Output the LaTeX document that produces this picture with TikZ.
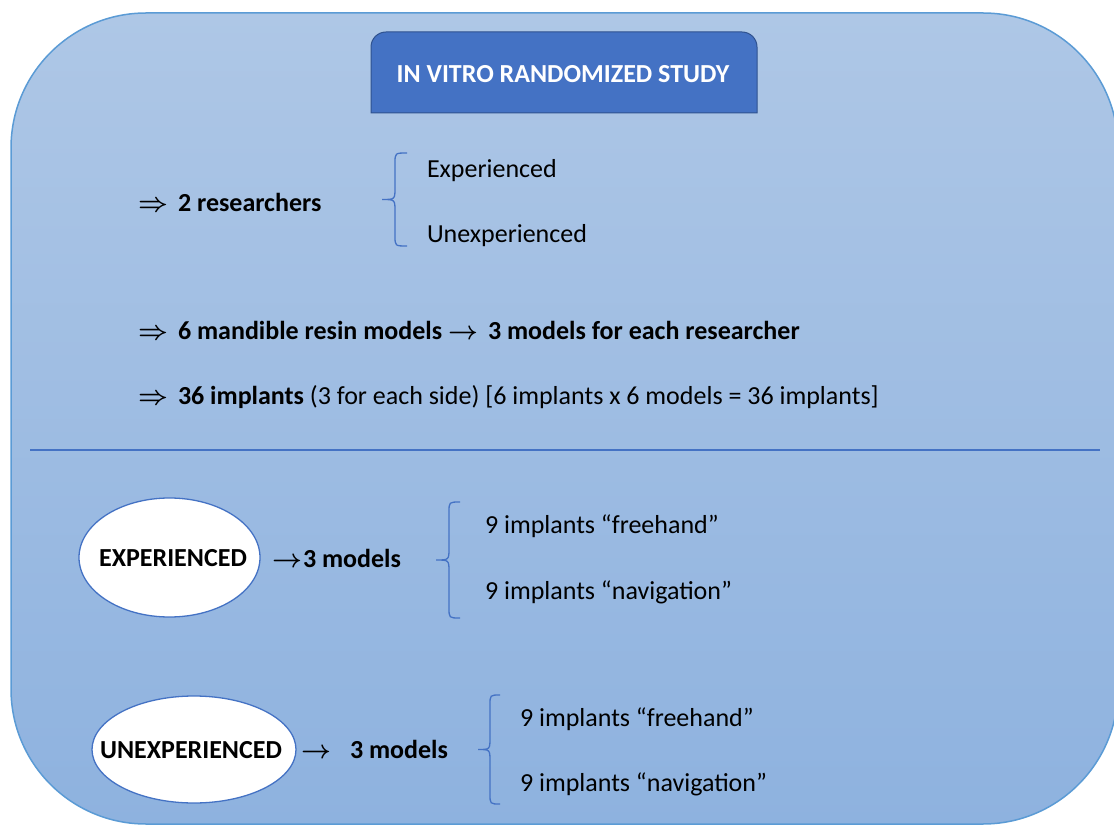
\RequirePackage{fix-cm}
\documentclass[tikz,border=0pt]{standalone}
\usepackage{fontspec}
\setmainfont{Carlito}
\usetikzlibrary{shapes.geometric}
\definecolor{bgtop}{HTML}{AEC7E6}
\definecolor{bgbot}{HTML}{8EB2DF}
\definecolor{rimblue}{HTML}{5B9BD5}
\definecolor{titleblue}{HTML}{4472C4}
\definecolor{titleedge}{HTML}{2F528F}
\definecolor{braceblue}{HTML}{4472C4}
\tikzset{
  txt/.style={anchor=base west, inner sep=0pt, outer sep=0pt, text=black, font=\fontsize{26}{31}\selectfont},
  btxt/.style={txt, font=\fontsize{26}{31}\selectfont\bfseries},
  ovalshape/.style={ellipse, draw=titleblue, line width=1.3pt, fill=white, inner sep=0pt},
  ovaltext/.style={inner sep=0pt, text=black, font=\fontsize{26}{31}\selectfont\bfseries},
  bracestyle/.style={draw=braceblue, line width=1.3pt},
}
\newcommand{\ArrowR}{{\boldmath$\rightarrow$}}
\newcommand{\ArrowRR}{{\boldmath$\Rightarrow$}}
% #1 tip x, #2 stem x, #3 end x, #4 top y, #5 bottom y
\newcommand{\BraceShape}[5]{%
  \draw[bracestyle] (#3,#4) .. controls (#2,#4) .. (#2,{#4+10})
    -- (#2,{(#4+#5)/2-12}) .. controls (#2,{(#4+#5)/2}) .. (#1,{(#4+#5)/2})
    .. controls (#2,{(#4+#5)/2}) .. (#2,{(#4+#5)/2+12})
    -- (#2,{#5-10}) .. controls (#2,#5) .. (#3,#5);%
}
\begin{document}
\begin{tikzpicture}[x=1pt,y=-1pt]
\useasboundingbox (0,0) rectangle (1114,826);
% outer frame
\node[draw=rimblue, line width=1.5pt, top color=bgtop, bottom color=bgbot,
      rounded corners=135pt, minimum width=1107pt, minimum height=811pt,
      inner sep=0pt] (frame) at (564.5,418.5) {};
% title
\draw[fill=titleblue, draw=titleedge, line width=1pt]
  (371,113) [rounded corners=15pt] -- (371,32) -- (757,32) [sharp corners] -- (757,113) -- cycle;
\node[inner sep=0pt, text=white, font=\fontsize{26}{31}\selectfont\bfseries] (title) at (563,74) {IN VITRO RANDOMIZED STUDY};

% researchers
\node[txt] (a1) at (138,212) {\ArrowRR};
\node[btxt] (res) at (178,212) {2 researchers};
\BraceShape{382}{395}{407}{153}{246}
\node[txt] (expd) at (427,178) {Experienced};
\node[txt] (unexpd) at (427,243) {Unexperienced};

% models
\node[txt] (a2) at (138,340) {\ArrowRR};
\node[btxt] (m6) at (178,340) {6 mandible resin models};
\node[txt] (a3) at (448,340) {\ArrowR};
\node[btxt] (m3) at (488,340) {3 models for each researcher};

% implants
\node[txt] (a4) at (138,404) {\ArrowRR};
\node[txt] (imp) at (178,404) {\textbf{36 implants} (3 for each side) [6 implants x 6 models = 36 implants]};

% separator
\draw[draw=titleblue, line width=1.2pt] (30,450) -- (1100,450);

% experienced
\node[ovalshape, minimum width=181pt, minimum height=119pt] (Eshape) at (169.5,557.5) {};
\node[ovaltext] (E) at (173,558) {EXPERIENCED};
\node[txt] (a5) at (272,567) {\ArrowR};
\node[btxt] (m3b) at (303,567) {3 models};
\BraceShape{436}{449}{460}{502}{618}
\node[txt] (f1) at (485,533) {9 implants “freehand”};
\node[txt] (n1) at (485,599) {9 implants “navigation”};

% unexperienced
\node[ovalshape, minimum width=204pt, minimum height=107pt] (Ushape) at (194,749.5) {};
\node[ovaltext] (U) at (191,750) {UNEXPERIENCED};
\node[txt] (a6) at (301,758) {\ArrowR};
\node[btxt] (m3c) at (350,758) {3 models};
\BraceShape{478}{490}{500}{695}{804}
\node[txt] (f2) at (520,726) {9 implants “freehand”};
\node[txt] (n2) at (520,791) {9 implants “navigation”};
\end{tikzpicture}
\end{document}
